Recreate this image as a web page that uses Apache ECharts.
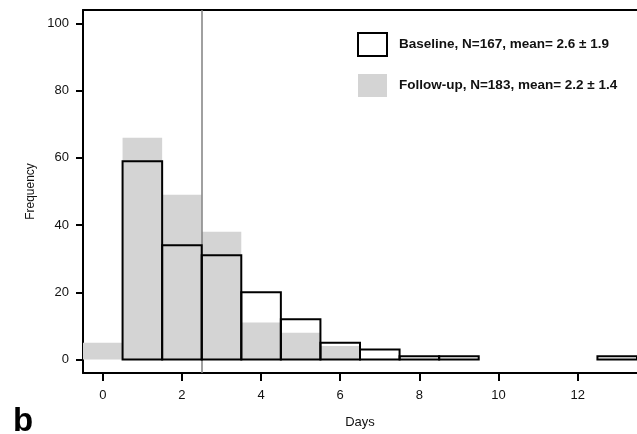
<!DOCTYPE html>
<html>
<head>
<meta charset="utf-8">
<script src="https://cdn.jsdelivr.net/npm/echarts@6/dist/echarts.min.js"></script>
<style>
  html, body { margin: 0; padding: 0; background: #fff; }
  #chart { width: 637px; height: 434px; }
</style>
</head>
<body>
<div id="chart"></div>
<script>
/* === Data === */
const days = [0, 1, 2, 3, 4, 5, 6, 7, 8, 9, 10, 11, 12, 13];
const baseline = [0, 59, 34, 31, 20, 12, 5, 3, 1, 1, 0, 0, 0, 1];
const followUp = [5, 66, 49, 38, 11, 8, 4, 0, 0, 0, 0, 0, 0, 0];
const xTicks = [0, 2, 4, 6, 8, 10, 12];
const yTicks = [0, 20, 40, 60, 80, 100];
const legendLabels = {
  Baseline: 'Baseline, N=167, mean= 2.6 \u00b1 1.9',
  'Follow-up': 'Follow-up, N=183, mean= 2.2 \u00b1 1.4'
};
const meanLine = 2.5;

const FONT = "'Liberation Sans', Arial, sans-serif";

/* histogram bar from x-0.5 to x+0.5 */
function histItem(style) {
  return function (params, api) {
    const x = api.value(0), v = api.value(1);
    if (!v) return;
    const p0 = api.coord([x - 0.5, v]);
    const p1 = api.coord([x + 0.5, 0]);
    return {
      type: 'rect',
      shape: { x: p0[0], y: p0[1], width: p1[0] - p0[0], height: p1[1] - p0[1] },
      style: style
    };
  };
}

const chart = echarts.init(document.getElementById('chart'));
chart.setOption({
  animation: false,
  grid: { left: 83, right: -2, top: 10, bottom: 58 },
  legend: {
    orient: 'vertical',
    left: 357, top: 32,
    padding: 0,
    itemWidth: 29, itemHeight: 23,
    itemGap: 17,
    textStyle: { fontFamily: FONT, fontSize: 13.5, fontWeight: 'bold', color: '#111', padding: [0, 0, 0, 7] },
    formatter: name => legendLabels[name],
    data: [
      { name: 'Baseline', icon: 'rect', itemStyle: { color: '#fff', borderColor: '#000', borderWidth: 2 } },
      { name: 'Follow-up', icon: 'rect', itemStyle: { color: '#d4d4d4', borderWidth: 0 } }
    ]
  },
  xAxis: [{
    type: 'value',
    min: -0.5, max: 13.5,
    name: 'Days', nameLocation: 'middle', nameGap: 43,
    nameTextStyle: { fontFamily: FONT, fontSize: 13, color: '#111' },
    axisLine: { onZero: false, lineStyle: { color: '#000', width: 2 } },
    axisTick: { show: true, length: 8, lineStyle: { color: '#000', width: 2 }, customValues: xTicks },
    axisLabel: { fontFamily: FONT, fontSize: 13, color: '#111', margin: 16, customValues: xTicks },
    splitLine: { show: false }
  }, {
    type: 'value',
    position: 'top',
    min: -0.5, max: 13.5,
    axisLine: { onZero: false, lineStyle: { color: '#000', width: 2 } },
    axisTick: { show: false },
    axisLabel: { show: false },
    splitLine: { show: false }
  }],
  yAxis: {
    type: 'value',
    min: -4, max: 104,
    name: 'Frequency', nameLocation: 'middle', nameGap: 44,
    nameTextStyle: { fontFamily: FONT, fontSize: 12, color: '#111' },
    axisLine: { show: true, onZero: false, lineStyle: { color: '#000', width: 2 } },
    axisTick: { show: true, length: 7, lineStyle: { color: '#000', width: 2 }, customValues: yTicks },
    axisLabel: { fontFamily: FONT, fontSize: 13, color: '#111', margin: 14, customValues: yTicks },
    splitLine: { show: false }
  },
  series: [{
    name: 'Follow-up',
    type: 'custom',
    z: 2,
    renderItem: histItem({ fill: '#d4d4d4' }),
    data: days.map((d, i) => [d, followUp[i]]),
    markLine: {
      silent: true,
      symbol: 'none',
      label: { show: false },
      lineStyle: { color: '#808080', width: 1.5, type: 'solid' },
      data: [{ xAxis: meanLine }]
    }
  }, {
    name: 'Baseline',
    type: 'custom',
    z: 6,
    renderItem: histItem({ fill: 'none', stroke: '#000', lineWidth: 2 }),
    data: days.map((d, i) => [d, baseline[i]])
  }],
  graphic: [{
    type: 'text',
    left: 13, top: 405,
    style: { text: 'b', font: "bold 33px 'Liberation Sans', Arial, sans-serif", fill: '#000' }
  }]
});
</script>
</body>
</html>
